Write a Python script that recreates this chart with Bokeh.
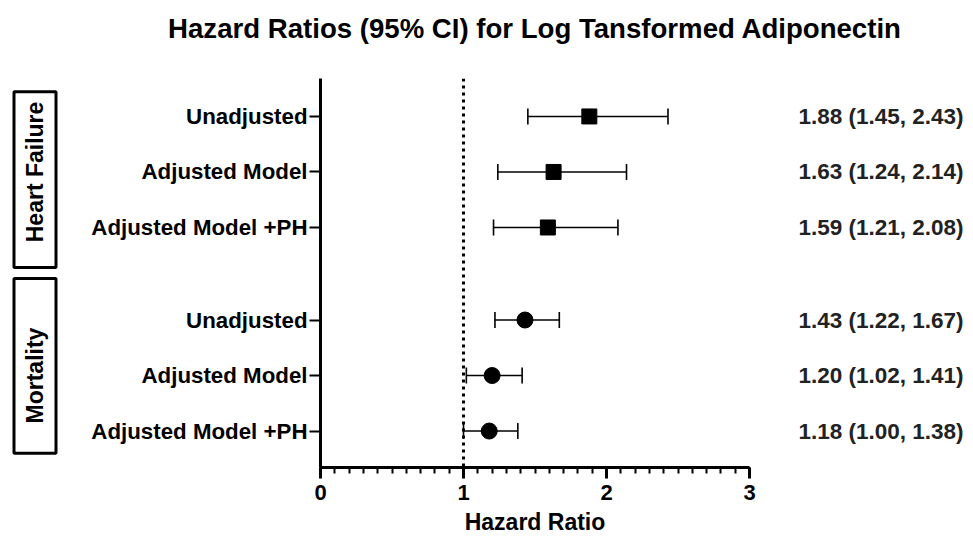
import numpy as np
from math import pi
from bokeh.plotting import figure
from bokeh.models import (Range1d, FixedTicker, LinearAxis, Span, Whisker, TeeHead,
                          ColumnDataSource, Title)
from bokeh.layouts import row
from bokeh.embed import file_html
from bokeh.resources import INLINE
from bokeh.core.properties import value

# ---------------- data ----------------
title_text = "Hazard Ratios (95% CI) for Log Tansformed Adiponectin"
groups = ["Heart Failure", "Mortality"]
models = ["Unadjusted", "Adjusted Model", "Adjusted Model +PH"]
hf_hr = [1.88, 1.63, 1.59]
hf_lo = [1.45, 1.24, 1.21]
hf_hi = [2.43, 2.14, 2.08]
mort_hr = [1.43, 1.20, 1.18]
mort_lo = [1.22, 1.02, 1.00]
mort_hi = [1.67, 1.41, 1.38]
x_ticks = [0, 1, 2, 3]
ref_line = 1.0
x_label = "Hazard Ratio"

# ---------------- layout constants ----------------
FONT = "Liberation Sans"
ROW_STEP = 3
GROUP_GAP = 5
PAD_TOP = 2.05
PAD_BOTTOM = 1.97
TOTAL_H = 541
TOTAL_W = 970
G_W = 64
P_W = TOTAL_W - G_W
BORDER_TOP = 78
BORDER_BOTTOM = 74

# row positions
ypos, labels, ci_text = [], [], []
hr_all, lo_all, hi_all = [], [], []
group_rows = []
offset = 0
for gi, (hr, lo, hi) in enumerate([(hf_hr, hf_lo, hf_hi), (mort_hr, mort_lo, mort_hi)]):
    rows_here = []
    for i, m in enumerate(models):
        yv = offset + i * ROW_STEP
        ypos.append(yv); rows_here.append(yv)
        labels.append(m)
        ci_text.append(f"{hr[i]:.2f} ({lo[i]:.2f}, {hi[i]:.2f})")
        hr_all.append(hr[i]); lo_all.append(lo[i]); hi_all.append(hi[i])
    group_rows.append(rows_here)
    offset = ypos[-1] + GROUP_GAP

y_top = min(ypos) - PAD_TOP
y_bot = max(ypos) + PAD_BOTTOM
y_range = Range1d(start=y_bot, end=y_top)

# ---------------- main figure ----------------
p = figure(width=P_W, height=TOTAL_H, x_range=Range1d(x_ticks[0], x_ticks[-1]),
           y_range=y_range, output_backend="svg", toolbar_location=None,
           min_border_left=256, min_border_right=221,
           min_border_top=BORDER_TOP, min_border_bottom=BORDER_BOTTOM)
p.outline_line_color = None
p.grid.visible = False
p.background_fill_color = "white"

# spacer panel next to the frame, then the real title above it
p.add_layout(Title(text=" ", text_font_size="1px", standoff=30), "above")
p.add_layout(Title(text=title_text, align="center", text_font=FONT,
                   text_font_size="27.6px", text_font_style="bold",
                   text_color="black", standoff=4), "above")

# x axis
minor = [round(v, 1) for v in np.arange(x_ticks[0], x_ticks[-1] + 0.001, 0.1)]
xa = p.xaxis[0]
xa.ticker = FixedTicker(ticks=x_ticks, minor_ticks=minor)
xa.axis_line_width = 3
xa.major_tick_line_width = 3
xa.minor_tick_line_width = 2
xa.major_tick_out = 11
xa.major_tick_in = 0
xa.minor_tick_out = 6
xa.minor_tick_in = 0
xa.major_label_standoff = 6
xa.major_label_text_font = FONT
xa.major_label_text_font_size = "22px"
xa.major_label_text_font_style = "bold"
xa.major_label_text_color = "black"
xa.axis_label = x_label
xa.axis_label_text_font = FONT
xa.axis_label_text_font_size = "23px"
xa.axis_label_text_font_style = "bold"
xa.axis_label_text_color = "black"
xa.axis_label_standoff = 6

# y axis (left)
ya = p.yaxis[0]
ya.ticker = FixedTicker(ticks=ypos)
ya.major_label_overrides = {int(y): l for y, l in zip(ypos, labels)}
ya.axis_line_width = 3
ya.major_tick_line_width = 2
ya.major_tick_out = 11
ya.major_tick_in = 0
ya.minor_tick_line_color = None
ya.major_label_standoff = 2
ya.major_label_text_font = FONT
ya.major_label_text_font_size = "22.3px"
ya.major_label_text_font_style = "bold"
ya.major_label_text_color = "black"

# right axis with CI text
ra = LinearAxis(ticker=FixedTicker(ticks=ypos),
                major_label_overrides={int(y): t for y, t in zip(ypos, ci_text)})
ra.axis_line_color = None
ra.major_tick_line_color = None
ra.minor_tick_line_color = None
ra.major_tick_out = 0
ra.major_tick_in = 0
ra.major_label_standoff = 49
ra.major_label_text_font = FONT
ra.major_label_text_font_size = "22.5px"
ra.major_label_text_font_style = "bold"
ra.major_label_text_color = "#222222"
p.add_layout(ra, "right")

# reference line
p.add_layout(Span(location=ref_line, dimension="height", line_color="black",
                  line_width=3, line_dash="3 4"))

src = ColumnDataSource(dict(y=ypos, hr=hr_all, lo=lo_all, hi=hi_all))
p.add_layout(Whisker(source=src, base="y", lower="lo", upper="hi", dimension="width",
                     line_color="black", line_width=1.6,
                     lower_head=TeeHead(size=16, line_width=1.6, line_color="black"),
                     upper_head=TeeHead(size=16, line_width=1.6, line_color="black")))

hf_src = ColumnDataSource(dict(x=hr_all[:3], y=ypos[:3]))
mo_src = ColumnDataSource(dict(x=hr_all[3:], y=ypos[3:]))
p.scatter("x", "y", source=hf_src, marker="square", size=15, color="black")
p.scatter("x", "y", source=mo_src, marker="circle", size=16, color="black")

# ---------------- group box figure ----------------
g = figure(width=G_W, height=TOTAL_H, x_range=Range1d(0, G_W), y_range=y_range,
           output_backend="svg", toolbar_location=None,
           min_border_left=0, min_border_right=0,
           min_border_top=BORDER_TOP, min_border_bottom=BORDER_BOTTOM)
g.axis.visible = False
g.grid.visible = False
g.outline_line_color = None

mid = (y_top + y_bot) / 2
box_top = [y_top + 0.72, mid + 0.30]
box_bot = [mid - 0.30, y_bot - 0.77]
box_left, box_right = 13.5, 55.5
g.quad(left=box_left, right=box_right, top=box_top, bottom=box_bot,
       fill_color="white", line_color="black", line_width=3)
g.text(x=[(box_left + box_right) / 2] * 2,
       y=[sum(rr) / len(rr) for rr in group_rows],
       text=groups, angle=pi / 2, text_align="center", text_baseline="middle",
       text_font=value(FONT), text_font_size="23px", text_font_style="bold",
       text_color="black")

layout = row(g, p)
open("out.html", "w").write(file_html(layout, INLINE))
